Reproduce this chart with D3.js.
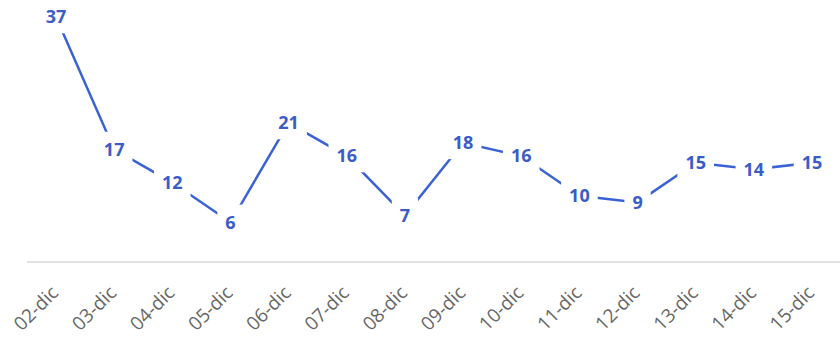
<!DOCTYPE html>
<html>
<head>
<meta charset="utf-8">
<script src="https://cdn.jsdelivr.net/npm/d3@7"></script>
<style>
  body { margin: 0; background: #fff; }
  svg { display: block; }
</style>
</head>
<body>
<div id="chart"><svg width="840" height="341"></svg></div>
<script>
var days = ['02-dic', '03-dic', '04-dic', '05-dic', '06-dic', '07-dic', '08-dic',
            '09-dic', '10-dic', '11-dic', '12-dic', '13-dic', '14-dic', '15-dic'];
var values = [37, 17, 12, 6, 21, 16, 7, 18, 16, 10, 9, 15, 14, 15];

var data = days.map(function(d, i) { return { day: d, value: values[i] }; });

var svg = d3.select('#chart').select('svg');
var g = svg.append('g');

var x = d3.scalePoint()
    .domain(days)
    .range([56, 812]);

var y = d3.scaleLinear()
    .domain([0, 37])
    .range([262, 17]);

// baseline axis
g.append('line')
  .attr('x1', 27).attr('x2', 840)
  .attr('y1', y(0)).attr('y2', y(0))
  .attr('stroke', '#d9d9d9')
  .attr('stroke-width', 1.5);

var xAxis = g.append('g')
  .attr('class', 'axis x')
  .attr('transform', 'translate(0,' + y(0) + ')')
  .call(d3.axisBottom(x).tickSize(0).tickPadding(0));
xAxis.select('.domain').remove();
xAxis.selectAll('text')
  .attr('x', 0)
  .attr('y', 0)
  .attr('dy', 0)
  .attr('transform', 'translate(3,32) rotate(-45)')
  .style('text-anchor', 'end')
  .style('font-family', '"Open Sans", sans-serif')
  .style('font-size', '19px')
  .style('fill', '#666');

var line = d3.line()
  .x(function(d) { return x(d.day); })
  .y(function(d) { return y(d.value); });

g.append('path')
  .datum(data)
  .attr('fill', 'none')
  .attr('stroke', '#3a62d4')
  .attr('stroke-width', 2.5)
  .attr('d', line);

var labels = g.selectAll('.lbl')
  .data(data)
  .enter().append('g')
  .attr('class', 'lbl')
  .attr('transform', function(d) { return 'translate(' + x(d.day) + ',' + y(d.value) + ')'; });

labels.append('rect')
  .attr('fill', '#fff');

labels.append('text')
  .attr('text-anchor', 'middle')
  .attr('dy', '0.35em')
  .style('font-family', '"Open Sans", sans-serif')
  .style('font-weight', 'bold')
  .style('font-size', '18px')
  .style('fill', '#3a5cc8')
  .text(function(d) { return d.value; });

labels.each(function() {
  var t = d3.select(this).select('text').node().getBBox();
  d3.select(this).select('rect')
    .attr('x', t.x - 8).attr('y', t.y - 5)
    .attr('width', t.width + 16).attr('height', t.height + 10);
});
</script>
</body>
</html>
